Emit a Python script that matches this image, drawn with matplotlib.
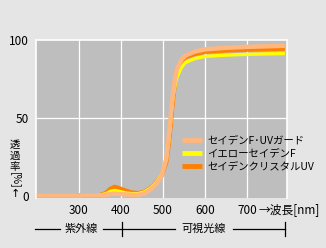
import matplotlib
matplotlib.use("Agg")
import matplotlib.pyplot as plt
from matplotlib.lines import Line2D

plt.rcParams["font.family"] = ["Noto Sans CJK JP", "DejaVu Sans"]

# wavelength [nm] and transmittance [%]
wavelength = [200, 300, 350, 365, 375, 385, 395, 410, 425, 440, 455, 470, 485,
              497, 508, 513, 518, 523, 528, 533, 543, 553, 575, 600, 650, 700,
              750, 790]
uv_guard = [0.3, 0.3, 0.4, 0.8, 1.2, 1.5, 1.3, 1.0, 0.8, 0.7, 1.5, 4, 8,
            13, 24, 36, 50, 64, 74, 81, 87, 90, 92.5, 94, 95, 95.6, 96, 96.3]
yellow = [0.3, 0.3, 0.5, 1.5, 3.0, 3.5, 3.0, 2.0, 1.5, 1.5, 2.5, 5, 9,
          14, 24, 34, 47, 62, 70, 76, 82, 85.5, 88, 89.5, 90.3, 90.8, 91.1, 91.3]
crystal_uv = [0.3, 0.3, 0.5, 2.0, 4.5, 5.8, 5.0, 3.5, 2.2, 1.8, 2.5, 5, 9,
              13, 22, 32, 45, 60, 72, 80, 86, 89, 91, 92.5, 93.3, 93.8, 94.2, 94.5]

labels = ["セイデンF･UVガード", "イエローセイデンF", "セイデンクリスタルUV"]
colors = ["#ffb780", "#ffff00", "#ff8000"]
xticks = [300, 400, 500, 600, 700]
yticks = [0, 50, 100]

W, H = 326, 248
BG = "#e5e5e5"

def fx(px):
    return px / W

def fy(py):
    return 1 - py / H

fig = plt.figure(figsize=(W / 100, H / 100), dpi=100, facecolor=BG)
ax = fig.add_axes([fx(36), fy(198), 251 / W, 158 / H], facecolor="#bebebe")

ax.set_xlim(198, 795)
ax.set_ylim(-1.3, 100)
for x in xticks:
    ax.axvline(x, color="white", lw=0.9, zorder=1)
ax.axhline(50, color="white", lw=0.9, zorder=1)
for side in ["top", "left", "right"]:
    ax.spines[side].set_color("white")
    ax.spines[side].set_linewidth(1.2)
ax.spines["bottom"].set_visible(False)

l1, = ax.plot(wavelength, uv_guard, color=colors[0], lw=3.2, zorder=3,
              solid_capstyle="butt")
l3, = ax.plot(wavelength, crystal_uv, color=colors[2], lw=3.2, zorder=2,
              solid_capstyle="butt")
l2, = ax.plot(wavelength, yellow, color=colors[1], lw=2.4, zorder=2.5,
              solid_capstyle="butt")

ax.set_xticks(xticks)
ax.set_yticks(yticks)
ax.tick_params(length=0, labelsize=8.5, colors="black")
ax.tick_params(axis="y", pad=5)
ax.tick_params(axis="x", pad=4)

leg = ax.legend([l1, l2, l3], labels, frameon=False, fontsize=7.5,
                loc="upper left", bbox_to_anchor=(fx(177), fy(130)),
                bbox_transform=fig.transFigure, handlelength=1.9,
                handletextpad=0.5, labelspacing=0.3, borderpad=0)
for line in leg.get_lines():
    line.set_linewidth(3.5)

fig.text(fx(259), fy(210), "→波長[nm]", fontsize=8.5, ha="left", va="center")

# stacked y label, one character per row
for ch, py in [("透", 145), ("過", 156), ("率", 167)]:
    fig.text(fx(15), fy(py), ch, fontsize=7.5, ha="center", va="center")
fig.text(fx(15), fy(180), "[%]", fontsize=7.5, ha="center", va="center",
         rotation=-90)
fig.text(fx(15), fy(194), "↑", fontsize=8, ha="center", va="center",
         family=["DejaVu Sans"])

# region markers under the axis
yline = 229
for x0, x1 in [(35, 60), (103, 175), (233, 285)]:
    fig.add_artist(Line2D([fx(x0), fx(x1)], [fy(yline), fy(yline)],
                          color="black", lw=0.9))
for x in [122, 285]:
    fig.add_artist(Line2D([fx(x), fx(x)], [fy(222), fy(236)],
                          color="black", lw=0.9))
fig.text(fx(81), fy(yline), "紫外線", fontsize=8, ha="center", va="center")
fig.text(fx(204), fy(yline), "可視光線", fontsize=8, ha="center", va="center")

fig.savefig("out.png", dpi=100, facecolor=BG)
